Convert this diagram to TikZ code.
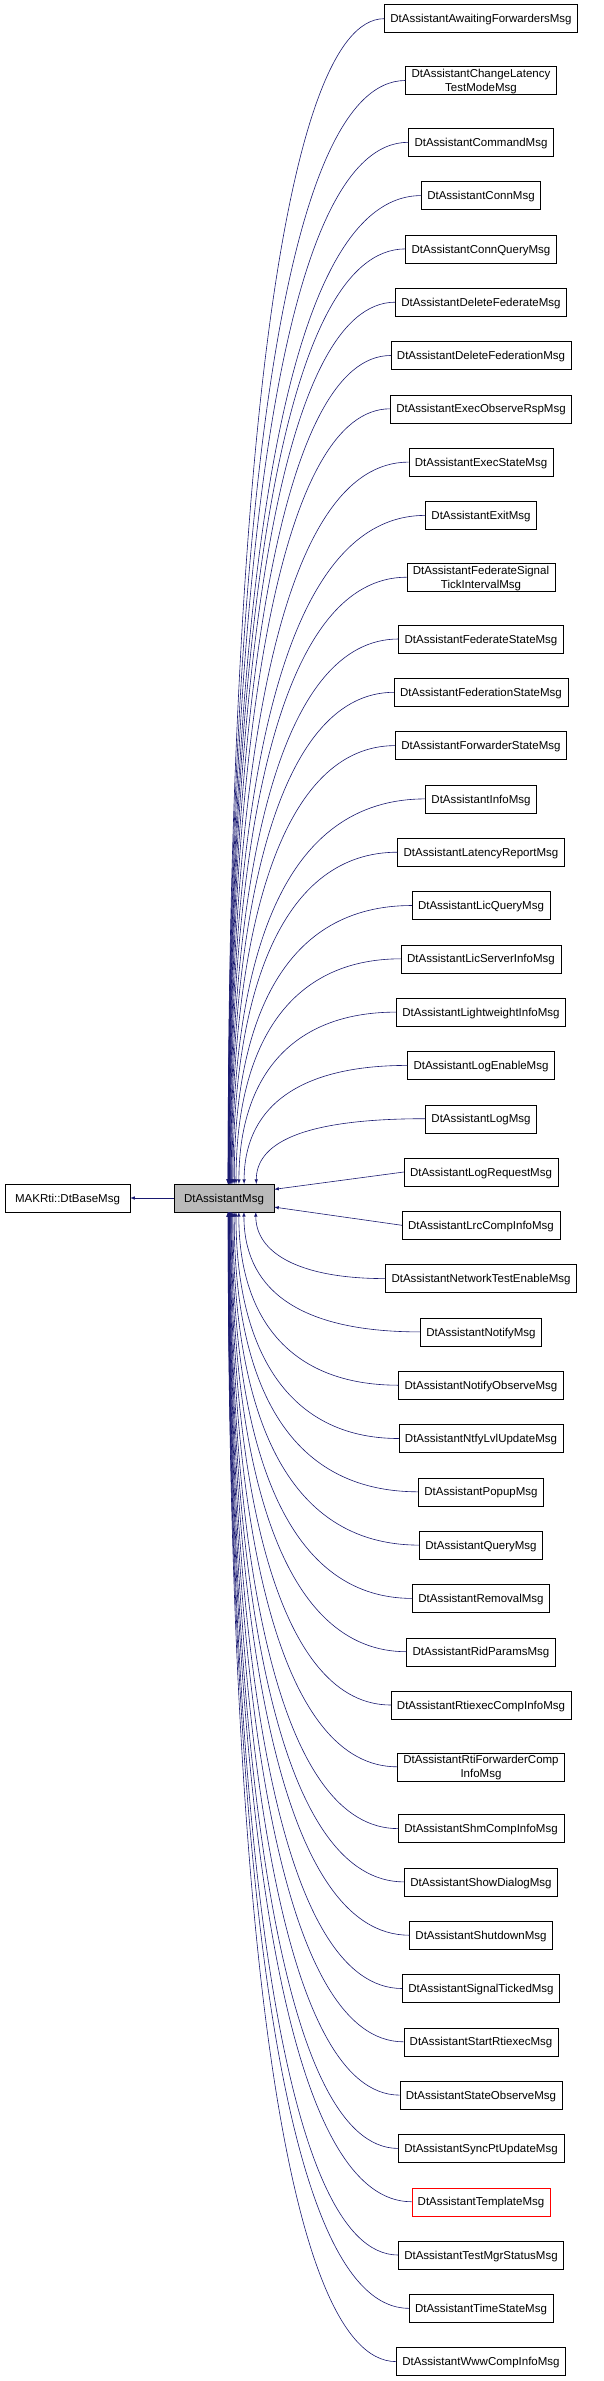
\documentclass[tikz,border=0pt]{standalone}
\usepackage{fontspec}
\setmainfont{Liberation Sans}
\begin{document}
\begin{tikzpicture}[x=1pt,y=-1pt]
  \tikzset{cls/.style={rectangle, draw, inner sep=0pt, minimum height=28pt, text depth=0pt, align=center, font=\fontsize{11.5}{14}\selectfont},
           edge/.style={color=midnightblue, <-, >=latex, semithick}}
  \definecolor{midnightblue}{HTML}{191970}
  \useasboundingbox (0,0) rectangle (603,2381);

  \node[cls, minimum width=125pt] (base) at (67.5,1198) {MAKRti::DtBaseMsg};
  \node[cls, minimum width=100pt, fill=black!27] (asst) at (224,1198) {DtAssistantMsg};
  \draw[edge] (base) -- (asst);

  \foreach \yy/\txt/\col [count=\i] in {
      18.7/DtAssistantAwaitingForwardersMsg/black,
      80.5/{DtAssistantChangeLatency\\TestModeMsg}/black,
      142.3/DtAssistantCommandMsg/black,
      195.6/DtAssistantConnMsg/black,
      248.9/DtAssistantConnQueryMsg/black,
      302.2/DtAssistantDeleteFederateMsg/black,
      355.5/DtAssistantDeleteFederationMsg/black,
      408.8/DtAssistantExecObserveRspMsg/black,
      462.1/DtAssistantExecStateMsg/black,
      515.4/DtAssistantExitMsg/black,
      577.2/{DtAssistantFederateSignal\\TickIntervalMsg}/black,
      639.0/DtAssistantFederateStateMsg/black,
      692.3/DtAssistantFederationStateMsg/black,
      745.6/DtAssistantForwarderStateMsg/black,
      798.9/DtAssistantInfoMsg/black,
      852.2/DtAssistantLatencyReportMsg/black,
      905.5/DtAssistantLicQueryMsg/black,
      958.8/DtAssistantLicServerInfoMsg/black,
      1012.1/DtAssistantLightweightInfoMsg/black,
      1065.4/DtAssistantLogEnableMsg/black,
      1118.7/DtAssistantLogMsg/black,
      1172.0/DtAssistantLogRequestMsg/black,
      1225.3/DtAssistantLrcCompInfoMsg/black,
      1278.6/DtAssistantNetworkTestEnableMsg/black,
      1331.9/DtAssistantNotifyMsg/black,
      1385.2/DtAssistantNotifyObserveMsg/black,
      1438.5/DtAssistantNtfyLvlUpdateMsg/black,
      1491.8/DtAssistantPopupMsg/black,
      1545.1/DtAssistantQueryMsg/black,
      1598.4/DtAssistantRemovalMsg/black,
      1651.7/DtAssistantRidParamsMsg/black,
      1705.0/DtAssistantRtiexecCompInfoMsg/black,
      1766.8/{DtAssistantRtiForwarderComp\\InfoMsg}/black,
      1828.6/DtAssistantShmCompInfoMsg/black,
      1881.9/DtAssistantShowDialogMsg/black,
      1935.2/DtAssistantShutdownMsg/black,
      1988.5/DtAssistantSignalTickedMsg/black,
      2041.8/DtAssistantStartRtiexecMsg/black,
      2095.1/DtAssistantStateObserveMsg/black,
      2148.4/DtAssistantSyncPtUpdateMsg/black,
      2201.7/DtAssistantTemplateMsg/red,
      2255.0/DtAssistantTestMgrStatusMsg/black,
      2308.3/DtAssistantTimeStateMsg/black,
      2361.6/DtAssistantWwwCompInfoMsg/black}
  {
    \node[cls, draw=\col, inner xsep=6pt] (c\i) at (481,\yy) {\txt};
    \pgfmathsetmacro\dy{\yy-1198}
    \pgfmathsetmacro\ady{abs(\dy)}
    \pgfmathsetmacro\tx{min(262,226+2400/max(\ady,1))}
    \ifdim\ady pt<40pt
      \draw[edge] (asst.east) ++(0,{\dy/3}) coordinate (t\i) -- (c\i.west);
    \else
      \ifdim\dy pt<0pt
        \coordinate (t\i) at (\tx,1184);
        \pgfmathsetmacro\cy{1184+0.6*(\yy-1184)}
      \else
        \coordinate (t\i) at (\tx,1212);
        \pgfmathsetmacro\cy{1212+0.6*(\yy-1212)}
      \fi
      \draw[edge] (t\i) .. controls (\tx,\cy) and ({\tx+0.45*(481-\tx)-60},\yy) .. (c\i.west);
    \fi
  }
\end{tikzpicture}
\end{document}
